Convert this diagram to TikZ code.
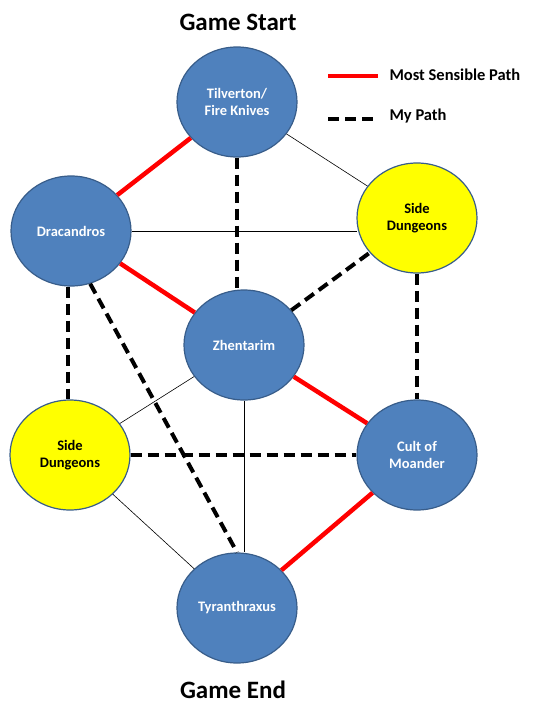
\documentclass[tikz,border=0pt]{standalone}
\usepackage{fontspec}
\setmainfont{Carlito}
\definecolor{nodeblue}{RGB}{79,129,189}
\definecolor{edgeblue}{RGB}{56,93,138}
\definecolor{sideyellow}{RGB}{255,255,0}
\definecolor{pathred}{RGB}{255,0,0}
\usetikzlibrary{shapes.geometric}
\tikzset{
  placebase/.style={ellipse, draw=edgeblue, line width=1.2pt, fill=nodeblue,
    minimum width=120pt, minimum height=110pt, inner sep=0pt, align=center,
    font=\fontsize{14.5}{17}\selectfont\bfseries, text=white},
  sidebase/.style={placebase, fill=sideyellow, text=black},
  titletext/.style={font=\fontsize{25}{28}\selectfont\bfseries},
  legendtext/.style={font=\fontsize{16.5}{19}\selectfont\bfseries, anchor=west},
  sensible/.style={pathred, line width=4.5pt},
  mypath/.style={black, line width=4pt, dash pattern=on 11pt off 6pt},
  otherpath/.style={black, line width=0.6pt},
}
\begin{document}
\begin{tikzpicture}[x=1pt, y=-1pt]
  \useasboundingbox (0,0) rectangle (538,722);

  \node[titletext] (start) at (238, 22) {Game Start};
  \node[titletext] (end) at (233, 690) {Game End};

  \node[placebase] (tilv) at (237, 102) {Tilverton/\\Fire Knives};
  \node[placebase] (drac) at (71, 231) {Dracandros};
  \node[sidebase] (sider) at (417, 218) {Side\\Dungeons};
  \node[placebase] (zhen) at (244, 345) {Zhentarim};
  \node[sidebase] (sidel) at (70, 455) {Side\\Dungeons};
  \node[placebase] (cult) at (417, 455) {Cult of\\Moander};
  \node[placebase] (tyra) at (237, 608) {Tyranthraxus};

  % legend
  \coordinate (ra) at (328, 76);
  \coordinate (rb) at (378, 76);
  \coordinate (da) at (328, 119);
  \coordinate (db) at (378, 119);
  \draw[sensible] (ra) -- (rb);
  \draw[mypath] (da) -- (db);
  \node[legendtext] (lred) at (386, 75) {Most Sensible Path};
  \node[legendtext] (ldash) at (386, 116) {My Path};

  % thin links
  \draw[otherpath] (tilv) -- (sider);
  \draw[otherpath] (drac.east) -- ([xshift=1pt]drac.east -| sider.west);
  \draw[otherpath] (zhen) -- (sidel);
  \draw[otherpath] (zhen.south) -- (tyra.north -| zhen.south);
  \draw[otherpath] (sidel) -- (tyra);

  % my path
  \draw[mypath] (tilv.south) -- (zhen.north -| tilv.south);
  \draw[mypath] (zhen) -- (sider);
  \draw[mypath] (sider.south) -- (cult.north);
  \draw[mypath] (drac.south -| 68,0) -- (sidel.north -| 68,0);
  \draw[mypath] (sidel) -- (cult);
  \draw[mypath] (drac.-70) -- (tyra.north);

  % most sensible path
  \draw[sensible] (tilv) -- (drac);
  \draw[sensible] (drac) -- (zhen);
  \draw[sensible] (zhen) -- (cult);
  \draw[sensible] (cult) -- (tyra);
\end{tikzpicture}
\end{document}
